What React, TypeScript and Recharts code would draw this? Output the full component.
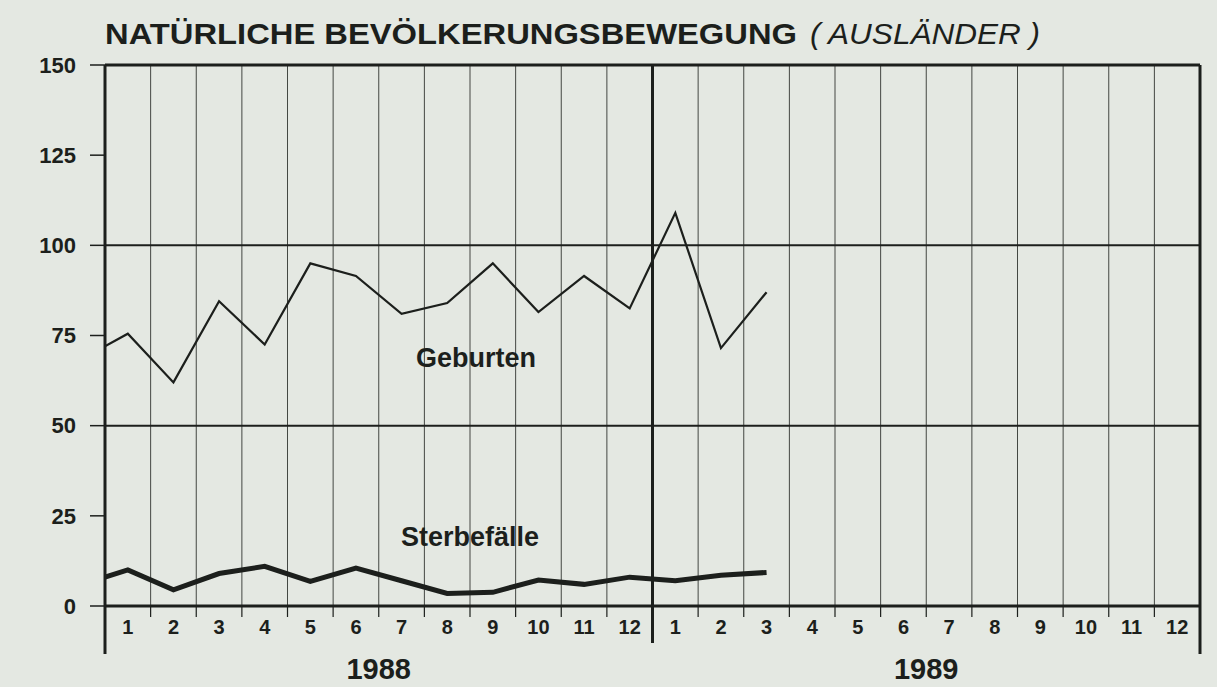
import * as React from "react";
import { LineChart, Line, XAxis, YAxis, ReferenceLine, ReferenceDot } from "recharts";

// periods: Dec 1987 (clipped at the left edge) through Mar 1989
const periods = [
  "12/87", "1/88", "2/88", "3/88", "4/88", "5/88", "6/88", "7/88", "8/88",
  "9/88", "10/88", "11/88", "12/88", "1/89", "2/89", "3/89",
];
const geburten = [68.5, 75.5, 62, 84.5, 72.5, 95, 91.5, 81, 84, 95, 81.5, 91.5, 82.5, 109, 71.5, 87];
const sterbefaelle = [6, 10, 4.5, 9, 11, 6.8, 10.5, 7, 3.5, 3.8, 7.2, 6, 8, 7, 8.5, 9.3];

const monthLabels = ["1", "2", "3", "4", "5", "6", "7", "8", "9", "10", "11", "12"];
const years = ["1988", "1989"];
const yTicks = [0, 25, 50, 75, 100, 125, 150];

const INK = "#1c1f1c";
const BG = "#e4e8e2";
const FONT = "'Liberation Sans', Arial, Helvetica, sans-serif";

const data = periods.map((p, i) => ({
  period: p,
  x: i - 0.5,
  geburten: geburten[i],
  sterbe: sterbefaelle[i],
}));

// month boundaries (0..24) and month centres (0.5..23.5)
const boundaries = Array.from({ length: 25 }, (_, i) => i);
const xTicks = Array.from({ length: 49 }, (_, i) => i / 2);

const AxisTick = (props: any) => {
  const { x, y, payload } = props;
  const v = payload.value as number;
  if (Number.isInteger(v)) {
    const len = v === 0 || v === 24 ? 48 : v === 12 ? 37 : 11;
    const w = v % 12 === 0 ? 3 : 1.2;
    return (
      <g>
        <line x1={x} y1={y} x2={x} y2={y + len} stroke={INK} strokeWidth={w} />
        {v % 12 === 6 && (
          <text
            x={x}
            y={y + 73}
            textAnchor="middle"
            fontFamily={FONT}
            fontWeight="bold"
            fontSize={29}
            fill={INK}
          >
            {years[Math.floor(v / 12)]}
          </text>
        )}
      </g>
    );
  }
  const m = Math.floor(v) % 12;
  return (
    <text x={x} y={y + 28} textAnchor="middle" fontFamily={FONT} fontWeight="bold" fontSize={20} fill={INK}>
      {monthLabels[m]}
    </text>
  );
};

const App = () => {
  return (
    <div
      style={{
        position: "absolute",
        left: 0,
        top: 0,
        width: 1217,
        height: 687,
        background: BG,
        overflow: "hidden",
      }}
    >
      <svg width={1217} height={60} style={{ position: "absolute", left: 0, top: 0 }}>
        <text
          x={105}
          y={44}
          fontFamily={FONT}
          fontWeight="bold"
          fontSize={30}
          fill={INK}
          textLength={692}
          lengthAdjust="spacingAndGlyphs"
        >
          NATÜRLICHE BEVÖLKERUNGSBEWEGUNG
        </text>
        <text
          x={810}
          y={44}
          fontFamily={FONT}
          fontStyle="italic"
          fontSize={30}
          fill={INK}
          textLength={230}
          lengthAdjust="spacingAndGlyphs"
        >
          ( AUSLÄNDER )
        </text>
      </svg>
      <LineChart
        width={1217}
        height={687}
        data={data}
        margin={{ top: 65, right: 17, bottom: 0, left: 0 }}
      >
        <XAxis
          type="number"
          dataKey="x"
          domain={[0, 24]}
          allowDataOverflow
          ticks={xTicks}
          interval={0}
          tickSize={0}
          tickMargin={0}
          tickLine={false}
          axisLine={{ stroke: INK, strokeWidth: 3 }}
          height={81}
          tick={<AxisTick />}
        />
        <YAxis
          type="number"
          domain={[0, 150]}
          ticks={yTicks}
          interval={0}
          width={105}
          tickSize={15}
          tickMargin={14}
          axisLine={{ stroke: INK, strokeWidth: 3 }}
          tickLine={{ stroke: INK, strokeWidth: 1.5 }}
          tick={{ fontFamily: FONT, fontWeight: "bold", fontSize: 22, fill: INK }}
        />
        {boundaries.slice(1).map((b) => (
          <ReferenceLine
            key={`v-${b}`}
            x={b}
            stroke={INK}
            strokeWidth={b % 12 === 0 ? 3 : 1}
            strokeOpacity={b % 12 === 0 ? 1 : 0.8}
          />
        ))}
        <ReferenceLine y={50} stroke={INK} strokeWidth={2} />
        <ReferenceLine y={100} stroke={INK} strokeWidth={2} />
        <ReferenceLine y={150} stroke={INK} strokeWidth={3} />
        <Line
          type="linear"
          dataKey="geburten"
          stroke={INK}
          strokeWidth={2.2}
          dot={false}
          isAnimationActive={false}
        />
        <Line
          type="linear"
          dataKey="sterbe"
          stroke={INK}
          strokeWidth={5}
          dot={false}
          isAnimationActive={false}
        />
        <ReferenceDot
          x={8.13}
          y={69}
          r={0}
          stroke="none"
          label={{ value: "Geburten", position: "center", fontFamily: FONT, fontWeight: "bold", fontSize: 27, fill: INK }}
        />
        <ReferenceDot
          x={8.0}
          y={19.2}
          r={0}
          stroke="none"
          label={{ value: "Sterbefälle", position: "center", fontFamily: FONT, fontWeight: "bold", fontSize: 27, fill: INK }}
        />
      </LineChart>
    </div>
  );
};

export default App;
